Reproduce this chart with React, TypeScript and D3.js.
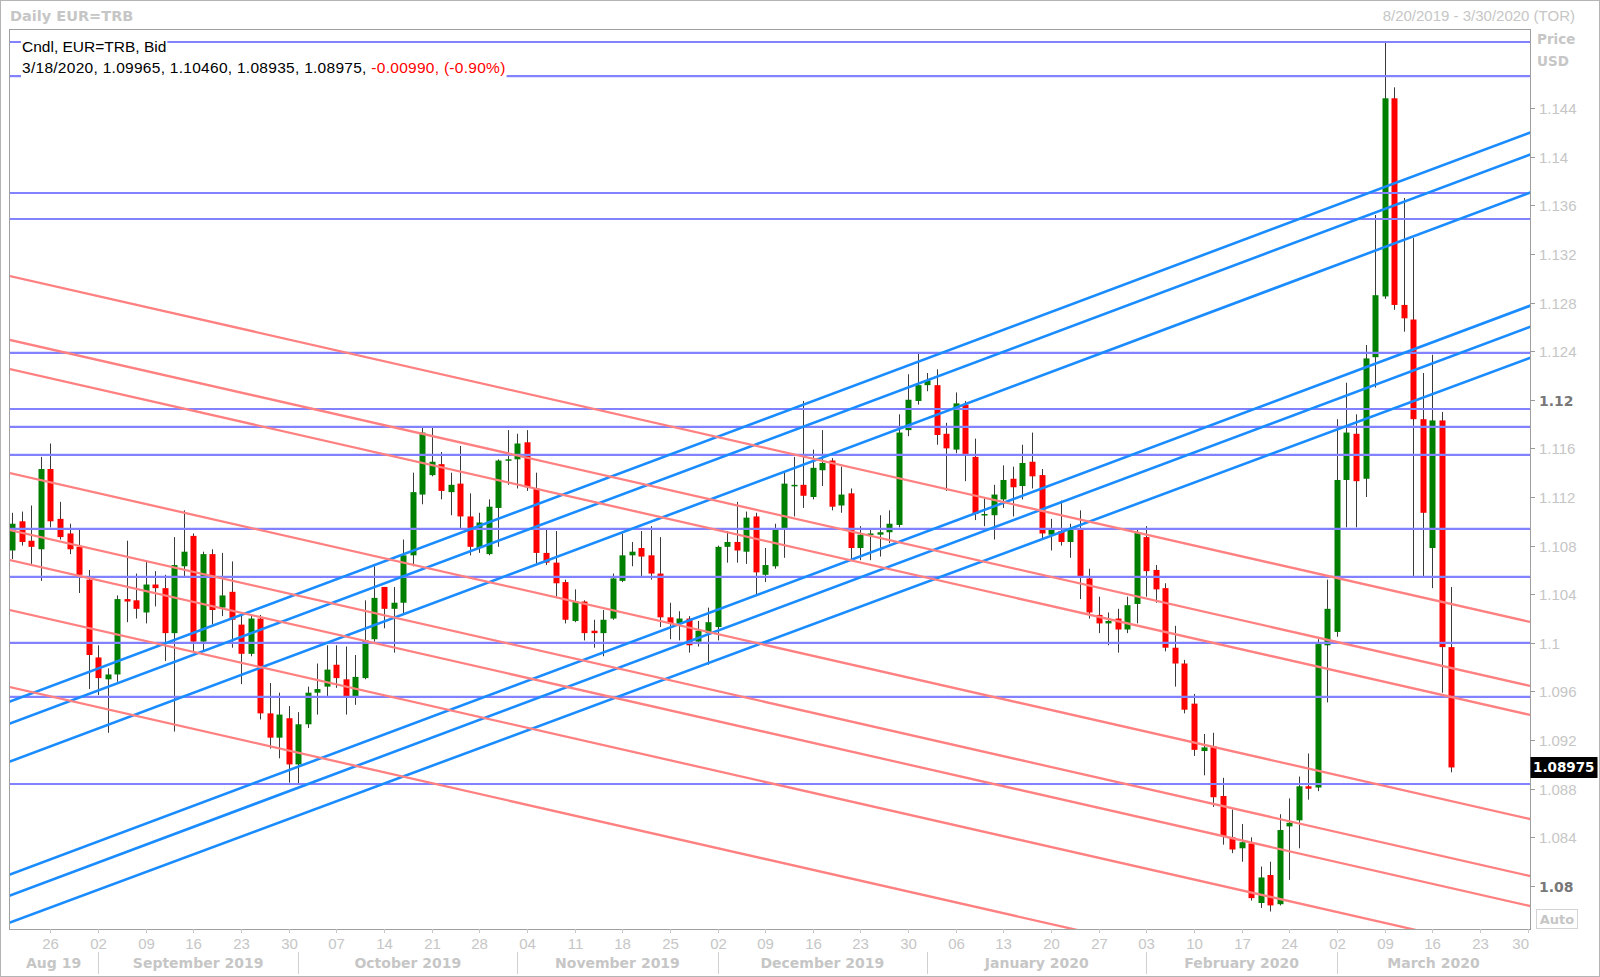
import { useLayoutEffect, useRef, useState } from "react";
import * as d3 from "d3";

// trading calendar (weekdays) and the first candle
const FIRST_DAY = "2019-08-19";
const LAST_DAY = "2020-03-31";
const CANDLE_START = "2019-08-20";

// daily OHLC, EUR=TRB bid
const OPEN = [
  1.1076, 1.1100, 1.1084, 1.1077, 1.1143, 1.1102, 1.1090, 1.1079, 1.1052, 1.0988,
  1.0970, 1.0974, 1.1036, 1.1035, 1.1025, 1.1048, 1.1045, 1.1008, 1.1063, 1.1088,
  1.1001, 1.1073, 1.1029, 1.1042, 1.1015, 1.0991, 1.1020, 1.0942, 1.0922, 1.0938,
  1.0900, 1.0933, 1.0959, 1.0964, 1.0982, 1.0970, 1.0956, 1.0971, 1.1003, 1.1046,
  1.1028, 1.1033, 1.1072, 1.1122, 1.1138, 1.1147, 1.1124, 1.1131, 1.1104, 1.1078,
  1.1073, 1.1111, 1.1150, 1.1151, 1.1165, 1.1127, 1.1074, 1.1066, 1.1050, 1.1018,
  1.1034, 1.1010, 1.1008, 1.1020, 1.1051, 1.1072, 1.1078, 1.1072, 1.1057, 1.1021,
  1.1016, 1.1020, 1.1001, 1.1008, 1.1013, 1.1079, 1.1083, 1.1075, 1.1104, 1.1056,
  1.1063, 1.1093, 1.1129, 1.1130, 1.1120, 1.1142, 1.1150, 1.1113, 1.1123, 1.1078,
  1.1090, 1.1089, 1.1091, 1.1097, 1.1175, 1.1199, 1.1212, 1.1212, 1.1172, 1.1159,
  1.1196, 1.1153, 1.1105, 1.1105, 1.1118, 1.1135, 1.1129, 1.1149, 1.1138, 1.1089,
  1.1092, 1.1083, 1.1093, 1.1053, 1.1023, 1.1016, 1.1020, 1.1011, 1.1032, 1.1087,
  1.1060, 1.1045, 1.0996, 1.0983, 1.0950, 1.0911, 1.0915, 1.0874, 1.0840, 1.0831,
  1.0835, 1.0786, 1.0809, 1.0785, 1.0849, 1.0854, 1.0882, 1.0881, 1.0998, 1.1009,
  1.1134, 1.1172, 1.1135, 1.1235, 1.1285, 1.1448, 1.1278, 1.1266, 1.1184, 1.1078,
  1.1183, 1.09965,
];
const HIGH = [
  1.1107, 1.1108, 1.1113, 1.1153, 1.1164, 1.1116, 1.1098, 1.1093, 1.1060, 1.0998,
  1.0979, 1.1039, 1.1084, 1.1057, 1.1068, 1.1059, 1.1056, 1.1087, 1.1109, 1.1090,
  1.1075, 1.1077, 1.1074, 1.1067, 1.1024, 1.1023, 1.1023, 1.0967, 1.0959, 1.0948,
  1.0943, 1.0964, 1.0983, 1.0998, 1.0998, 1.0997, 1.0990, 1.1035, 1.1063, 1.1046,
  1.1046, 1.1085, 1.1140, 1.1177, 1.1177, 1.1157, 1.1140, 1.1162, 1.1123, 1.1107,
  1.1118, 1.1151, 1.1175, 1.1172, 1.1175, 1.1140, 1.1094, 1.1092, 1.1052, 1.1044,
  1.1035, 1.1019, 1.1027, 1.1057, 1.1090, 1.1083, 1.1092, 1.1096, 1.1087, 1.1033,
  1.1026, 1.1022, 1.1018, 1.1029, 1.1080, 1.1092, 1.1116, 1.1108, 1.1107, 1.1078,
  1.1098, 1.1140, 1.1153, 1.1199, 1.1159, 1.1175, 1.1152, 1.1145, 1.1127, 1.1096,
  1.1093, 1.1105, 1.1109, 1.1188, 1.1221, 1.1238, 1.1222, 1.1225, 1.1181, 1.1206,
  1.1199, 1.1168, 1.1120, 1.1130, 1.1146, 1.1145, 1.1163, 1.1173, 1.1143, 1.1102,
  1.1117, 1.1098, 1.1109, 1.1061, 1.1038, 1.1025, 1.1028, 1.1038, 1.1093, 1.1096,
  1.1064, 1.1049, 1.1014, 1.0986, 1.0958, 1.0925, 1.0926, 1.0889, 1.0863, 1.0851,
  1.0840, 1.0816, 1.0820, 1.0859, 1.0872, 1.0890, 1.0909, 1.1003, 1.1052, 1.1184,
  1.1214, 1.1188, 1.1245, 1.1352, 1.1494, 1.1457, 1.1366, 1.1333, 1.1222, 1.1237,
  1.1190, 1.1046,
];
const LOW = [
  1.1069, 1.1080, 1.1065, 1.1051, 1.1095, 1.1085, 1.1073, 1.1041, 1.0962, 1.0957,
  1.0926, 1.0968, 1.1017, 1.1020, 1.1016, 1.1030, 1.0985, 1.0927, 1.1055, 1.0993,
  1.0993, 1.1015, 1.1022, 1.0996, 1.0966, 1.0989, 1.0937, 1.0913, 1.0905, 1.0885,
  1.0883, 1.0930, 1.0941, 1.0956, 1.0963, 1.0941, 1.0949, 1.0970, 1.1001, 1.1012,
  1.0992, 1.1024, 1.1063, 1.1114, 1.1137, 1.1118, 1.1105, 1.1094, 1.1072, 1.1074,
  1.1072, 1.1079, 1.1130, 1.1127, 1.1125, 1.1065, 1.1064, 1.1038, 1.1016, 1.1017,
  1.1002, 1.0996, 1.0989, 1.1019, 1.1050, 1.1063, 1.1055, 1.1052, 1.1013, 1.1003,
  1.1002, 1.0992, 1.0997, 1.0982, 1.1002, 1.1066, 1.1066, 1.1065, 1.1039, 1.1050,
  1.1061, 1.1070, 1.1104, 1.1111, 1.1118, 1.1129, 1.1109, 1.1107, 1.1068, 1.1068,
  1.1068, 1.1071, 1.1082, 1.1095, 1.1170, 1.1196, 1.1207, 1.1163, 1.1125, 1.1156,
  1.1133, 1.1101, 1.1096, 1.1085, 1.1111, 1.1104, 1.1118, 1.1127, 1.1085, 1.1076,
  1.1080, 1.1070, 1.1036, 1.1020, 1.1008, 1.0998, 1.0992, 1.1008, 1.1016, 1.1038,
  1.1033, 1.0993, 1.0964, 1.0942, 1.0907, 1.0891, 1.0865, 1.0834, 1.0827, 1.0820,
  1.0788, 1.0782, 1.0779, 1.0784, 1.0805, 1.0831, 1.0871, 1.0878, 1.0951, 1.1005,
  1.1095, 1.1095, 1.1120, 1.1210, 1.1283, 1.1274, 1.1256, 1.1055, 1.1055, 1.1045,
  1.0959, 1.08935,
];
const CLOSE = [
  1.1098, 1.1083, 1.1079, 1.1143, 1.1100, 1.1087, 1.1077, 1.1056, 1.0990, 1.0971,
  1.0974, 1.1036, 1.1034, 1.1028, 1.1048, 1.1045, 1.1008, 1.1064, 1.1075, 1.1001,
  1.1073, 1.1027, 1.1039, 1.1019, 1.0991, 1.1020, 1.0942, 1.0922, 1.0941, 1.0900,
  1.0933, 1.0959, 1.0962, 1.0978, 1.0971, 1.0956, 1.0972, 1.1002, 1.1037, 1.1028,
  1.1033, 1.1072, 1.1124, 1.1173, 1.1149, 1.1125, 1.1130, 1.1104, 1.1079, 1.1099,
  1.1112, 1.1150, 1.1151, 1.1164, 1.1128, 1.1074, 1.1066, 1.1049, 1.1019, 1.1034,
  1.1008, 1.1008, 1.1019, 1.1053, 1.1072, 1.1075, 1.1071, 1.1057, 1.1021, 1.1016,
  1.1020, 1.0998, 1.1010, 1.1017, 1.1079, 1.1083, 1.1076, 1.1103, 1.1058, 1.1064,
  1.1093, 1.1131, 1.1130, 1.1121, 1.1144, 1.1148, 1.1112, 1.1122, 1.1078, 1.1089,
  1.1090, 1.1091, 1.1098, 1.1173, 1.1200, 1.1212, 1.1216, 1.1171, 1.1160, 1.1197,
  1.1155, 1.1106, 1.1106, 1.1122, 1.1134, 1.1128, 1.1148, 1.1137, 1.1090, 1.1093,
  1.1083, 1.1093, 1.1055, 1.1025, 1.1016, 1.1018, 1.1011, 1.1031, 1.1091, 1.1059,
  1.1044, 1.0996, 1.0983, 1.0945, 1.0912, 1.0914, 1.0873, 1.0841, 1.0830, 1.0836,
  1.0790, 1.0807, 1.0784, 1.0846, 1.0852, 1.0882, 1.0880, 1.0999, 1.1028, 1.1134,
  1.1173, 1.1133, 1.1234, 1.1286, 1.1448, 1.1278, 1.1267, 1.1184, 1.1107, 1.1183,
  1.09965, 1.08975,
];

// horizontal support / resistance levels
const LEVELS = [
  1.14943, 1.14663, 1.13701, 1.13487, 1.12385, 1.11924, 1.11776, 1.11546,
  1.10937, 1.10542, 1.1, 1.09555, 1.08839,
];

// trend lines, price at FIRST_DAY and at LAST_DAY
const RISING_FROM = [1.09495, 1.09314, 1.09002, 1.08072, 1.07899, 1.07677];
const RISING_TO = [1.14219, 1.14038, 1.13725, 1.12795, 1.12622, 1.12366];
const FALLING_FROM = [1.13031, 1.12505, 1.12266, 1.1141, 1.10941, 1.10694, 1.10283, 1.09649];
const FALLING_TO = [1.10159, 1.09633, 1.09394, 1.08538, 1.08069, 1.07822, 1.07411, 1.06777];

const Y_TICKS = d3.range(0, 17).map(k => 1.08 + k * 0.004);

const W = 1600;
const H = 977;
const M = { left: 9, top: 29, right: 1530, bottom: 929 };

const REG = "'Liberation Sans', Arial, sans-serif";
const BOLD = "'DejaVu Sans', Verdana, sans-serif";
const GRAY = "#c6c6c6";

export default function App() {
  const t1 = useRef<SVGTextElement>(null);
  const t2 = useRef<SVGTextElement>(null);
  const [wid, setWid] = useState([144, 483]);

  useLayoutEffect(() => {
    if (t1.current && t2.current) {
      setWid([t1.current.getBBox().width, t2.current.getBBox().width]);
    }
  }, []);

  const parse = d3.utcParse("%Y-%m-%d");
  const days = d3.utcDay
    .range(parse(FIRST_DAY)!, d3.utcDay.offset(parse(LAST_DAY)!, 1))
    .filter(d => d.getUTCDay() !== 0 && d.getUTCDay() !== 6);
  const k0 = days.findIndex(d => +d === +parse(CANDLE_START)!);
  const kEnd = days.length - 1;

  const x = d3.scaleLinear().domain([0.65, 160.26]).range([M.left, M.right]);
  const y = d3.scaleLinear().domain([1.07646, 1.1505]).range([M.bottom, M.top]);

  const candles = OPEN.map((o, i) => ({
    k: k0 + i, o, h: HIGH[i], l: LOW[i], c: CLOSE[i],
  }));

  // weekly ticks (Mondays) and month separators
  const mondays = days
    .map((d, k) => ({ d, k }))
    .filter(({ d, k }) => d.getUTCDay() === 1 && x(k) >= M.left + 3 && x(k) <= M.right);
  const seps = days
    .map((d, k) => ({ d, k }))
    .filter(({ d, k }) => k > 0 && d.getUTCMonth() !== days[k - 1].getUTCMonth() && x(k) < M.right);
  const edges = [M.left, ...seps.map(s => x(s.k)), M.right];
  const monthDays = [days[1], ...seps.map(s => s.d)];
  const fmtLong = d3.utcFormat("%B %Y");
  const fmtShort = d3.utcFormat("%b %y");

  const last = candles[candles.length - 1];
  const prev = candles[candles.length - 2];
  const chg = last.c - prev.c;
  const pct = (chg / prev.c) * 100;
  const f5 = (v: number) => v.toFixed(5);
  const info = `${d3.utcFormat("%-m/%-d/%Y")(days[last.k])}, ${f5(last.o)}, ${f5(last.h)}, ${f5(last.l)}, ${f5(last.c)}, `;
  const infoChg = `${f5(chg)}, (${pct.toFixed(2)}%)`;

  const tickFmt = d3.format(".3~f");
  const bw = 6;

  return (
    <svg width={W} height={H} style={{ position: "absolute", left: 0, top: 0, display: "block", background: "#fff" }}>
      <defs>
        <clipPath id="plot">
          <rect x={M.left} y={M.top} width={M.right - M.left} height={M.bottom - M.top} />
        </clipPath>
      </defs>
      <rect x={0.5} y={0.5} width={W - 1} height={H - 1} fill="#fff" stroke="#b4b4b4" />

      {/* title strip */}
      <text x={10} y={21} fontFamily={BOLD} fontWeight="bold" fontSize={14.5} fill={GRAY}>Daily EUR=TRB</text>
      <text x={1575} y={21} fontFamily={REG} fontSize={15} fill={GRAY} textAnchor="end">8/20/2019 - 3/30/2020 (TOR)</text>

      {/* candles */}
      <g>
        {candles.map(d => {
          const cx = Math.round(x(d.k));
          const up = d.c >= d.o;
          const top = y(Math.max(d.o, d.c));
          const bot = y(Math.min(d.o, d.c));
          return (
            <g key={d.k}>
              <line x1={cx + 0.5} x2={cx + 0.5} y1={y(d.h)} y2={y(d.l)} stroke="#3a3a3a" strokeWidth={1} />
              <rect x={cx - bw / 2 + 0.5} y={top} width={bw} height={Math.max(1.5, bot - top)}
                fill={up ? "#008000" : "#ff0000"} />
            </g>
          );
        })}
      </g>

      {/* drawn lines */}
      <g clipPath="url(#plot)">
        {LEVELS.map((v, i) => (
          <line key={"h" + i} x1={M.left} x2={M.right} y1={y(v)} y2={y(v)} stroke="#8282ff" strokeWidth={2.2} />
        ))}
        {RISING_FROM.map((v, i) => (
          <line key={"r" + i} x1={x(0)} x2={x(kEnd)} y1={y(v)} y2={y(RISING_TO[i])} stroke="#1a8cff" strokeWidth={2.6} />
        ))}
        {FALLING_FROM.map((v, i) => (
          <line key={"f" + i} x1={x(0)} x2={x(kEnd)} y1={y(v)} y2={y(FALLING_TO[i])} stroke="#ff8080" strokeWidth={2.3} />
        ))}
      </g>

      {/* legend text */}
      <rect x={21} y={38} width={wid[0] + 2} height={17} fill="#fff" />
      <rect x={21} y={58} width={wid[1] + 2} height={20} fill="#fff" />
      <text ref={t1} x={22} y={52} fontFamily={REG} fontSize={15.5} fill="#000">Cndl, EUR=TRB, Bid</text>
      <text ref={t2} x={22} y={73} fontFamily={REG} fontSize={15.5} letterSpacing={0.28} fill="#000">
        {info}<tspan fill="#ff0000">{infoChg}</tspan>
      </text>

      {/* plot frame */}
      <rect x={M.left + 0.5} y={M.top + 0.5} width={M.right - M.left} height={M.bottom - M.top}
        fill="none" stroke="#a0a0a0" />

      {/* price axis */}
      <text x={1537} y={44} fontFamily={BOLD} fontWeight="bold" fontSize={13.5} fill={GRAY}>Price</text>
      <text x={1537} y={66} fontFamily={BOLD} fontWeight="bold" fontSize={13.5} fill={GRAY}>USD</text>
      {Y_TICKS.map(v => {
        const yy = Math.round(y(v)) + 0.5;
        const major = Math.round(v * 1000) % 40 === 0;
        return (
          <g key={v}>
            <line x1={M.right} x2={M.right + 5} y1={yy} y2={yy} stroke="#9a9a9a" />
            <text x={1539} y={yy + 5} fontFamily={major ? BOLD : REG} fontWeight={major ? "bold" : "normal"}
              fontSize={major ? 14 : 15} fill={major ? "#787878" : GRAY}>{tickFmt(v)}</text>
          </g>
        );
      })}
      <rect x={M.right + 0.5} y={Math.round(y(last.c)) - 10} width={67} height={21} fill="#000" />
      <text x={M.right + 3} y={Math.round(y(last.c)) + 5} fontFamily={BOLD} fontWeight="bold" fontSize={13.5} fill="#fff">
        {f5(last.c)}
      </text>
      <rect x={1536.5} y={909.5} width={41} height={19} fill="#fff" stroke="#d4d4d4" />
      <text x={1557} y={924} textAnchor="middle" fontFamily={BOLD} fontWeight="bold" fontSize={13} fill={GRAY}>Auto</text>

      {/* time axis */}
      {mondays.map(({ d, k }) => {
        const xx = Math.round(x(k)) + 0.5;
        const atEdge = xx + 9 > M.right;
        return (
          <g key={k}>
            <line x1={xx} x2={xx} y1={M.bottom} y2={M.bottom + 4} stroke={GRAY} />
            <text x={atEdge ? M.right - 1 : xx} y={949} textAnchor={atEdge ? "end" : "middle"}
              fontFamily={REG} fontSize={15} fill={GRAY}>{d3.utcFormat("%d")(d)}</text>
          </g>
        );
      })}
      {seps.map(({ k }) => {
        const xx = Math.round(x(k)) + 0.5;
        return <line key={"s" + k} x1={xx} x2={xx} y1={952} y2={974} stroke="#d0d0d0" />;
      })}
      {monthDays.map((d, j) => {
        const x0 = edges[j];
        const x1 = edges[j + 1];
        const label = x1 - x0 < 120 ? fmtShort(d) : fmtLong(d);
        return (
          <text key={"m" + j} x={(x0 + x1) / 2} y={968} textAnchor="middle" fontFamily={BOLD}
            fontWeight="bold" fontSize={14} fill={GRAY}>{label}</text>
        );
      })}
    </svg>
  );
}
